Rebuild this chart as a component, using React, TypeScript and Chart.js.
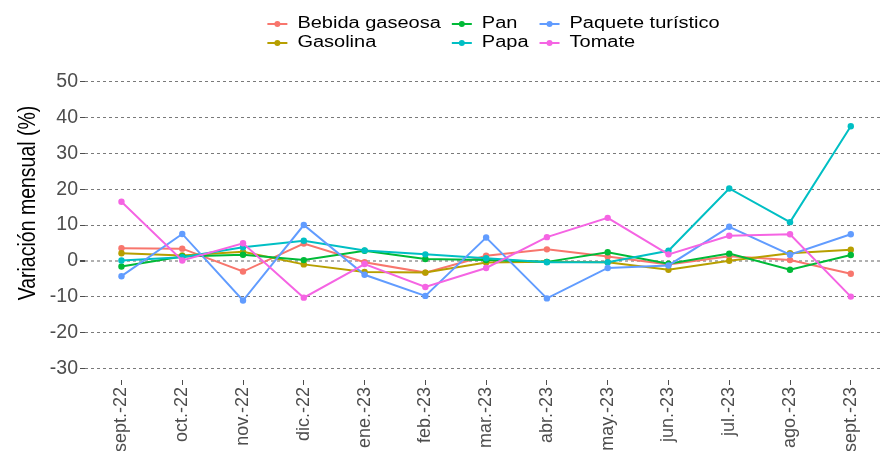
import React, { useEffect, useRef } from 'react';
import { Chart, registerables } from 'chart.js';

Chart.register(...registerables);

const categories = ['sept.-22', 'oct.-22', 'nov.-22', 'dic.-22', 'ene.-23', 'feb.-23', 'mar.-23', 'abr.-23', 'may.-23', 'jun.-23', 'jul.-23', 'ago.-23', 'sept.-23'];

const bebidaGaseosa = [3.5, 3.4, -3.0, 4.8, -0.4, -3.3, 1.4, 3.2, 1.2, -1.0, 1.3, 0.2, -3.6];
const gasolina = [2.1, 1.5, 2.5, -1.0, -3.1, -3.3, -0.5, -0.3, -0.4, -2.5, 0.0, 2.1, 3.1];
const pan = [-1.6, 1.2, 1.7, 0.2, 2.8, 0.5, 0.2, -0.3, 2.4, -0.8, 2.0, -2.5, 1.6];
const papa = [0.1, 1.0, 3.8, 5.6, 2.9, 1.8, 0.7, -0.4, -0.4, 2.8, 20.2, 10.8, 37.6];
const paqueteTuristico = [-4.3, 7.5, -11.1, 10.0, -3.9, -9.8, 6.5, -10.5, -2.0, -1.3, 9.5, 1.7, 7.4];
const tomate = [16.5, 0.1, 4.9, -10.3, -0.9, -7.3, -2.0, 6.6, 12.0, 1.8, 7.0, 7.4, -10.0];

const seriesNames = ['Bebida gaseosa', 'Gasolina', 'Pan', 'Papa', 'Paquete turístico', 'Tomate'];
const seriesColors = ['#F8766D', '#B79F00', '#00BA38', '#00BFC4', '#619CFF', '#F564E3'];

const yTicks = [-30, -20, -10, 0, 10, 20, 30, 40, 50];
const yTitle = 'Variación mensual (%)';

const FONT = '"Liberation Sans", Arial, Helvetica, sans-serif';

const legendPlugin = {
  id: 'colLegend',
  afterDraw(chart: any) {
    const ctx = chart.ctx as CanvasRenderingContext2D;
    const sx = 1.25;
    const fontPx = 16;
    const keyW = 20;
    const keyGap = 10;
    const colGap = 11;
    const centerX = 493.5;
    const rowsY = [24, 43];
    const cols = [[0, 1], [2, 3], [4, 5]];
    ctx.save();
    ctx.font = `${fontPx}px ${FONT}`;
    const colWidths = cols.map(
      (c) => keyW + keyGap + Math.max(...c.map((i) => ctx.measureText(seriesNames[i]).width * sx))
    );
    const total = colWidths.reduce((a, b) => a + b, 0) + colGap * (cols.length - 1);
    let x = centerX - total / 2;
    cols.forEach((c, ci) => {
      c.forEach((si, ri) => {
        const y = rowsY[ri];
        ctx.strokeStyle = seriesColors[si];
        ctx.lineWidth = 2;
        ctx.beginPath();
        ctx.moveTo(x, y);
        ctx.lineTo(x + keyW, y);
        ctx.stroke();
        ctx.fillStyle = seriesColors[si];
        ctx.beginPath();
        ctx.arc(x + keyW / 2, y, 3, 0, Math.PI * 2);
        ctx.fill();
        ctx.fillStyle = '#000';
        ctx.textBaseline = 'middle';
        ctx.textAlign = 'left';
        ctx.save();
        ctx.translate(x + keyW + keyGap, y);
        ctx.scale(sx, 1);
        ctx.fillText(seriesNames[si], 0, 0);
        ctx.restore();
      });
      x += colWidths[ci] + colGap;
    });

    // y-axis title (rotated)
    ctx.save();
    ctx.font = `19.5px ${FONT}`;
    ctx.fillStyle = '#000';
    ctx.textAlign = 'center';
    ctx.textBaseline = 'middle';
    ctx.translate(28, 203);
    ctx.rotate(-Math.PI / 2);
    ctx.scale(1, 1.22);
    ctx.fillText(yTitle, 0, 0);
    ctx.restore();

    ctx.restore();
  },
};

export default function App() {
  const ref = useRef<HTMLCanvasElement>(null);

  useEffect(() => {
    document.body.style.margin = '0';
    const canvas = ref.current;
    if (!canvas) return;
    const values = [bebidaGaseosa, gasolina, pan, papa, paqueteTuristico, tomate];
    const datasets = values.map((vals, i) => ({
      label: seriesNames[i],
      data: vals.map((v, j) => ({ x: j, y: v })),
      borderColor: seriesColors[i],
      backgroundColor: seriesColors[i],
      pointBackgroundColor: seriesColors[i],
      pointBorderWidth: 0,
      pointRadius: 3.2,
      borderWidth: 2,
      tension: 0,
      clip: false as any,
      order: values.length - 1 - i,
    }));

    const chart = new Chart(canvas, {
      type: 'line',
      data: { datasets },
      plugins: [legendPlugin],
      options: {
        responsive: false,
        animation: false,
        layout: { padding: { top: 70, right: 0, left: 0, bottom: 0 } },
        plugins: {
          legend: { display: false },
          tooltip: { enabled: false },
        },
        scales: {
          x: {
            type: 'linear',
            min: -0.6,
            max: 12.53,
            afterBuildTicks: (s: any) => {
              s.ticks = categories.map((_, i) => ({ value: i }));
            },
            afterFit: (s: any) => {
              s.height = 71;
            },
            ticks: {
              autoSkip: false,
              minRotation: 90,
              maxRotation: 90,
              padding: 2,
              color: '#4d4d4d',
              font: { family: FONT, size: 18 },
              callback: (_v: any, i: number) => categories[i],
            },
            grid: {
              drawOnChartArea: false,
              drawTicks: true,
              tickLength: 5,
              tickColor: '#4d4d4d',
            },
            border: { display: false },
          },
          y: {
            type: 'linear',
            min: -33.3,
            max: 53.3,
            afterBuildTicks: (s: any) => {
              s.ticks = yTicks.map((v) => ({ value: v }));
            },
            afterFit: (s: any) => {
              s.width = 85;
            },
            ticks: {
              padding: 2,
              color: '#4d4d4d',
              font: { family: FONT, size: 19.5 },
              callback: (v: any) => String(v),
            },
            grid: {
              color: (c: any) => (c.tick && c.tick.value === 0 ? '#b0b0b0' : '#7a7a7a'),
              lineWidth: (c: any) => (c.tick && c.tick.value === 0 ? 2 : 1),
              drawTicks: true,
              tickLength: 5,
              tickColor: '#4d4d4d',
            },
            border: { display: false, dash: [3, 3] },
            title: { display: false },
          },
        },
      },
    });
    return () => chart.destroy();
  }, []);

  return <canvas ref={ref} width={887} height={451} style={{ display: 'block' }} />;
}
